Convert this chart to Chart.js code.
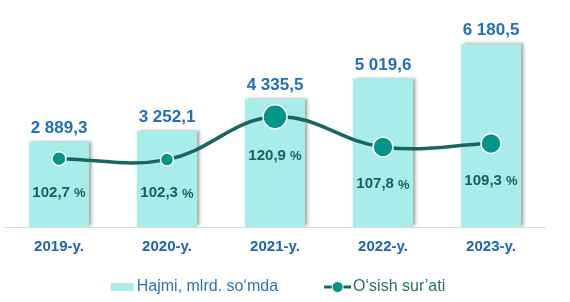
<!DOCTYPE html>
<html>
<head>
<meta charset="utf-8">
<script src="https://cdn.jsdelivr.net/npm/chart.js@4.4.1/dist/chart.umd.min.js"></script>
<style>
	body { margin: 0; background: #ffffff; }
	#wrap { width: 570px; height: 302px; }
</style>
</head>
<body>
<div id="wrap"><canvas id="chart"></canvas></div>
<script>
	// 데이터
	var years = ['2019-y.', '2020-y.', '2021-y.', '2022-y.', '2023-y.'];
	var volume = [2889.3, 3252.1, 4335.5, 5019.6, 6180.5]; // Hajmi, mlrd. so'mda
	var growth = [102.7, 102.3, 120.9, 107.8, 109.3]; // O'sish sur'ati, %
	var seriesNames = ['Hajmi, mlrd. so\u2018mda', 'O\u2018sish sur\u2019ati'];

	var barColor = '#a8ede9';
	var lineColor = '#17665f';
	var dotColor = '#04958a';
	var blue = '#1f6fbf';
	var teal = '#1b5f5a';
	var FONT = '"Liberation Sans", Arial, sans-serif';

	// 2 889,3 형식
	function fmt(v){
		var p = v.toFixed(1).split('.');
		return p[0].replace(/\B(?=(\d{3})+(?!\d))/g, ' ') + ',' + p[1];
	}

	// 막대 그림자
	var barShadow = {
		id: 'barShadow',
		beforeDatasetDraw: function(chart, args){
			if (args.meta.type !== 'bar') return;
			var ctx = chart.ctx;
			ctx.save();
			ctx.shadowColor = 'rgba(0,0,0,0.35)';
			ctx.shadowBlur = 3;
			ctx.shadowOffsetX = 3;
			ctx.shadowOffsetY = -1;
		},
		afterDatasetDraw: function(chart, args){
			if (args.meta.type !== 'bar') return;
			chart.ctx.restore();
		}
	};

	// 값 라벨
	var valueLabels = {
		id: 'valueLabels',
		afterDatasetsDraw: function(chart){
			var ctx = chart.ctx;
			ctx.save();
			ctx.textAlign = 'center';
			var bars = chart.getDatasetMeta(0).data;
			ctx.fillStyle = blue;
			ctx.font = 'bold 17px ' + FONT;
			ctx.textBaseline = 'alphabetic';
			bars.forEach(function(b, i){
				ctx.fillText(fmt(volume[i]), b.x, b.y - 9);
			});
			var pts = chart.getDatasetMeta(1).data;
			ctx.fillStyle = teal;
			ctx.textBaseline = 'middle';
			pts.forEach(function(p, i){
				var num = growth[i].toFixed(1).replace('.', ',') + ' ';
				ctx.font = 'bold 15px ' + FONT;
				var w1 = ctx.measureText(num).width;
				ctx.font = 'bold 13px ' + FONT;
				var w2 = ctx.measureText('%').width;
				var x0 = p.x - (w1 + w2) / 2;
				var y = p.y + p.options.radius + 27;
				ctx.textAlign = 'left';
				ctx.font = 'bold 15px ' + FONT;
				ctx.fillText(num, x0, y);
				ctx.font = 'bold 13px ' + FONT;
				ctx.fillText('%', x0 + w1, y + 1);
			});
			ctx.restore();
		}
	};

	// 범례
	var customLegend = {
		id: 'customLegend',
		afterDraw: function(chart){
			var ctx = chart.ctx;
			var area = chart.chartArea;
			ctx.save();
			ctx.font = '16px ' + FONT;
			ctx.textBaseline = 'middle';
			ctx.textAlign = 'left';
			var w1 = ctx.measureText(seriesNames[0]).width;
			var w2 = ctx.measureText(seriesNames[1]).width;
			var total = 26 + w1 + 46 + 29 + w2;
			var x = (area.left + area.right) / 2 - total / 2 + 3;
			var y = 287;
			ctx.fillStyle = barColor;
			ctx.fillRect(x, y - 4, 23, 8);
			ctx.fillStyle = '#2a74bd';
			ctx.fillText(seriesNames[0], x + 26, y);
			x += 26 + w1 + 46;
			ctx.strokeStyle = lineColor;
			ctx.lineWidth = 3;
			ctx.beginPath();
			ctx.moveTo(x, y); ctx.lineTo(x + 27, y);
			ctx.stroke();
			ctx.fillStyle = dotColor;
			ctx.strokeStyle = '#ffffff';
			ctx.lineWidth = 1;
			ctx.beginPath();
			ctx.arc(x + 13.5, y, 5.5, 0, Math.PI * 2);
			ctx.fill(); ctx.stroke();
			ctx.fillStyle = '#22706a';
			ctx.fillText(seriesNames[1], x + 29, y);
			ctx.restore();
		}
	};

	new Chart(document.getElementById('chart'), {
		data: {
			labels: years,
			datasets: [{
				type: 'bar',
				label: seriesNames[0],
				data: volume,
				yAxisID: 'y',
				backgroundColor: barColor,
				borderWidth: 0,
				categoryPercentage: 1,
				barPercentage: 0.56,
				order: 2
			}, {
				type: 'line',
				label: seriesNames[1],
				data: growth,
				yAxisID: 'y1',
				borderColor: lineColor,
				borderWidth: 3.5,
				tension: 0.4,
				pointRadius: [7, 6.5, 12, 10, 10],
				pointBackgroundColor: dotColor,
				pointBorderColor: '#ffffff',
				pointBorderWidth: 1.5,
				order: 1
			}]
		},
		options: {
			responsive: true,
			maintainAspectRatio: false,
			animation: false,
			layout: { autoPadding: false, padding: { left: 5, right: 25, top: 20, bottom: 35 } },
			plugins: {
				legend: { display: false },
				tooltip: { enabled: false }
			},
			scales: {
				x: {
					grid: { display: false, drawTicks: false },
					border: { display: true, color: '#d9d9d9', width: 1 },
					ticks: {
						padding: 11,
						color: '#1f63b3',
						font: { family: FONT, size: 15, weight: 'bold' }
					}
				},
				y: { display: false, min: 0, max: 7000 },
				y1: { display: false, min: 73, max: 163 }
			}
		},
		plugins: [barShadow, valueLabels, customLegend]
	});
</script>
</body>
</html>
